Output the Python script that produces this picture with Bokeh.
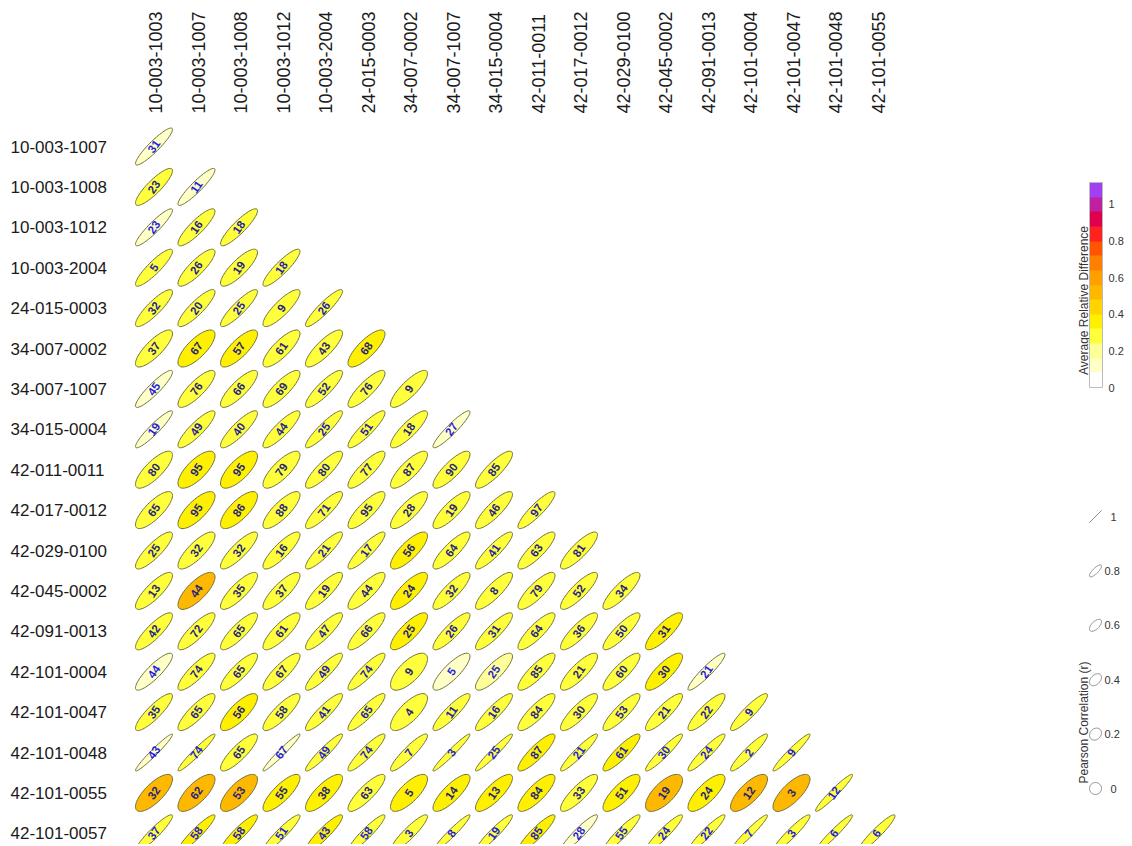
import numpy as np
from bokeh.plotting import figure
from bokeh.models import ColumnDataSource, Range1d, LinearColorMapper, ColorBar, FixedTicker
from bokeh.transform import transform
from bokeh.core.properties import value
from bokeh.embed import file_html
from bokeh.resources import INLINE

col_sites = ["10-003-1003", "10-003-1007", "10-003-1008", "10-003-1012", "10-003-2004",
             "24-015-0003", "34-007-0002", "34-007-1007", "34-015-0004", "42-011-0011",
             "42-017-0012", "42-029-0100", "42-045-0002", "42-091-0013", "42-101-0004",
             "42-101-0047", "42-101-0048", "42-101-0055"]
row_sites = ["10-003-1007", "10-003-1008", "10-003-1012", "10-003-2004", "24-015-0003",
             "34-007-0002", "34-007-1007", "34-015-0004", "42-011-0011", "42-017-0012",
             "42-029-0100", "42-045-0002", "42-091-0013", "42-101-0004", "42-101-0047",
             "42-101-0048", "42-101-0055", "42-101-0057"]

distance_km = [
    [31],
    [23, 11],
    [23, 16, 18],
    [5, 26, 19, 18],
    [32, 20, 25, 9, 26],
    [37, 67, 57, 61, 43, 68],
    [45, 76, 66, 69, 52, 76, 9],
    [19, 49, 40, 44, 25, 51, 18, 27],
    [80, 95, 95, 79, 80, 77, 87, 90, 85],
    [65, 95, 86, 88, 71, 95, 28, 19, 46, 97],
    [25, 32, 32, 16, 21, 17, 56, 64, 41, 63, 81],
    [13, 44, 35, 37, 19, 44, 24, 32, 8, 79, 52, 34],
    [42, 72, 65, 61, 47, 66, 25, 26, 31, 64, 36, 50, 31],
    [44, 74, 65, 67, 49, 74, 9, 5, 25, 85, 21, 60, 30, 21],
    [35, 65, 56, 58, 41, 65, 4, 11, 16, 84, 30, 53, 21, 22, 9],
    [43, 74, 65, 67, 49, 74, 7, 3, 25, 87, 21, 61, 30, 24, 2, 9],
    [32, 62, 53, 55, 38, 63, 5, 14, 13, 84, 33, 51, 19, 24, 12, 3, 12],
    [37, 58, 58, 51, 43, 58, 3, 8, 19, 85, 28, 55, 24, 22, 7, 3, 6, 6],
]

pearson_r = [
    [0.92],
    [0.87, 0.92],
    [0.92, 0.87, 0.89],
    [0.89, 0.85, 0.83, 0.89],
    [0.87, 0.87, 0.89, 0.85, 0.91],
    [0.81, 0.75, 0.79, 0.81, 0.83, 0.79],
    [0.91, 0.83, 0.83, 0.83, 0.87, 0.85, 0.83],
    [0.93, 0.87, 0.87, 0.87, 0.91, 0.89, 0.85, 0.93],
    [0.79, 0.73, 0.73, 0.79, 0.85, 0.85, 0.81, 0.83, 0.85],
    [0.79, 0.75, 0.75, 0.81, 0.87, 0.83, 0.81, 0.83, 0.85, 0.89],
    [0.85, 0.81, 0.85, 0.85, 0.89, 0.89, 0.79, 0.85, 0.89, 0.85, 0.85],
    [0.83, 0.75, 0.83, 0.83, 0.85, 0.83, 0.79, 0.85, 0.85, 0.83, 0.85, 0.85],
    [0.85, 0.85, 0.85, 0.83, 0.87, 0.85, 0.81, 0.87, 0.87, 0.85, 0.85, 0.87, 0.83],
    [0.87, 0.85, 0.85, 0.85, 0.89, 0.89, 0.70, 0.83, 0.83, 0.85, 0.83, 0.85, 0.81, 0.93],
    [0.87, 0.85, 0.79, 0.85, 0.89, 0.89, 0.75, 0.89, 0.89, 0.85, 0.85, 0.87, 0.87, 0.87, 0.91],
    [0.97, 0.96, 0.85, 0.97, 0.94, 0.91, 0.91, 0.97, 0.96, 0.87, 0.94, 0.89, 0.94, 0.93, 0.93, 0.96],
    [0.75, 0.73, 0.73, 0.81, 0.79, 0.85, 0.75, 0.81, 0.81, 0.81, 0.85, 0.79, 0.69, 0.77, 0.75, 0.75, 0.96],
    [0.93, 0.93, 0.91, 0.93, 0.91, 0.93, 0.91, 0.96, 0.94, 0.91, 0.93, 0.93, 0.93, 0.94, 0.96, 0.94, 0.96, 0.94],
]

avg_rel_diff = [
    [0.12],
    [0.28, 0.12],
    [0.12, 0.28, 0.28],
    [0.28, 0.28, 0.28, 0.28],
    [0.28, 0.28, 0.28, 0.28, 0.28],
    [0.28, 0.36, 0.36, 0.28, 0.28, 0.36],
    [0.14, 0.28, 0.28, 0.28, 0.28, 0.28, 0.28],
    [0.12, 0.28, 0.28, 0.28, 0.28, 0.28, 0.28, 0.14],
    [0.28, 0.36, 0.36, 0.28, 0.28, 0.28, 0.28, 0.28, 0.28],
    [0.28, 0.36, 0.36, 0.28, 0.28, 0.28, 0.28, 0.28, 0.28, 0.28],
    [0.28, 0.30, 0.28, 0.28, 0.28, 0.28, 0.36, 0.28, 0.28, 0.28, 0.28],
    [0.28, 0.50, 0.30, 0.28, 0.28, 0.28, 0.36, 0.28, 0.28, 0.28, 0.28, 0.28],
    [0.28, 0.28, 0.28, 0.28, 0.28, 0.28, 0.36, 0.28, 0.28, 0.28, 0.28, 0.28, 0.33],
    [0.14, 0.28, 0.28, 0.28, 0.28, 0.28, 0.28, 0.14, 0.16, 0.28, 0.28, 0.28, 0.36, 0.14],
    [0.28, 0.28, 0.36, 0.28, 0.28, 0.28, 0.28, 0.28, 0.28, 0.28, 0.28, 0.28, 0.28, 0.28, 0.28],
    [0.14, 0.28, 0.28, 0.14, 0.28, 0.28, 0.28, 0.28, 0.28, 0.36, 0.30, 0.36, 0.28, 0.28, 0.28, 0.28],
    [0.50, 0.52, 0.50, 0.34, 0.36, 0.28, 0.36, 0.33, 0.33, 0.36, 0.28, 0.36, 0.52, 0.36, 0.54, 0.52, 0.28],
    [0.28, 0.34, 0.36, 0.28, 0.36, 0.28, 0.28, 0.28, 0.28, 0.34, 0.14, 0.30, 0.30, 0.28, 0.28, 0.28, 0.28, 0.28],
]

colorbar_ticks = [0, 0.2, 0.4, 0.6, 0.8, 1]
r_legend_values = [1, 0.8, 0.6, 0.4, 0.2, 0]
r_legend_labels = ["1", "0.8", "0.6", "0.4", "0.2", "0"]

palette = ["#FFFFFF", "#FFFFC8", "#FFFF99", "#FFFF3C", "#FFF000", "#FFD400", "#FFB800",
           "#FFA000", "#FF7F00", "#FF5500", "#FF2020", "#E0004F", "#C0209F", "#A040F0"]
mapper = LinearColorMapper(palette=palette, low=0, high=1.12)

# ---- layout (pixels from the top-left of the figure) ----
W, H = 1130, 844
X0, DX = 153.5, 42.5     # first column centre, column pitch
Y0, DY = 146.0, 40.4     # first row centre, row pitch


def xd(px):
    return (px - X0) / DX


def yd(py):
    return -(py - Y0) / DY


p = figure(width=W, height=H, output_backend="svg", toolbar_location=None,
           x_range=Range1d(xd(0), xd(W)), y_range=Range1d(yd(H), yd(0)),
           x_axis_location=None, y_axis_location=None, min_border=0)
p.grid.visible = False
p.outline_line_color = None
p.background_fill_color = "white"
p.border_fill_color = "white"

SX, SY = 18.5 / DX, 18.5 / DY     # ellipse half-extent: square 37 px box
t = np.linspace(0, 2 * np.pi, 72)


def ellipse_pts(cx, cy, r, sx, sy):
    d = np.arccos(np.clip(r, -1, 1))
    return list(cx + sx * np.cos(t + d / 2)), list(cy + sy * np.cos(t - d / 2))


def blend(c1, c2, w):
    a = [int(c1[k:k + 2], 16) for k in (1, 3, 5)]
    b = [int(c2[k:k + 2], 16) for k in (1, 3, 5)]
    return "#%02x%02x%02x" % tuple(int(round(a[k] + (b[k] - a[k]) * w)) for k in range(3))


xs, ys, ard, cx, cy, lab, tcol = [], [], [], [], [], [], []
for i, row in enumerate(distance_km):
    for j, dist in enumerate(row):
        r = pearson_r[i][j]
        a = avg_rel_diff[i][j]
        ex, ey = ellipse_pts(j, -i, r, SX, SY)
        xs.append(ex); ys.append(ey); ard.append(a)
        cx.append(j); cy.append(-i); lab.append(str(dist))
        w = max(min(max((r - 0.84) / 0.1, 0), 1), min(max((0.24 - a) / 0.1, 0), 1))
        tcol.append(blend("#25257a", "#1e1ee0", w))

src = ColumnDataSource(dict(xs=xs, ys=ys, ard=ard, cx=cx, cy=cy, lab=lab, tcol=tcol))
p.patches("xs", "ys", source=src, fill_color=transform("ard", mapper),
          line_color="#707038", line_width=1)
p.text("cx", "cy", text="lab", source=src, angle=np.radians(55), text_align="center",
       text_baseline="middle", text_color="tcol", text_font=value("Liberation Sans"),
       text_font_size="11.5px", text_font_style="bold")

# row labels
p.text(x=[xd(10)] * len(row_sites), y=[-i for i in range(len(row_sites))], text=row_sites,
       text_align="left", text_baseline="middle", text_color="#1a1a1a",
       text_font=value("Liberation Sans"), text_font_size="17px")
# column labels
p.text(x=[j + 1.5 / DX for j in range(len(col_sites))], y=[yd(113)] * len(col_sites),
       text=col_sites, angle=np.pi / 2, text_align="left", text_baseline="middle",
       text_color="#1a1a1a", text_font=value("Liberation Sans"), text_font_size="18px")

# colour bar legend
cb = ColorBar(color_mapper=mapper, location=(1089, H - 387), width=13, height=205,
              padding=0, margin=0, ticker=FixedTicker(ticks=colorbar_ticks),
              major_label_overrides={v: (str(v) if v not in (0, 1) else str(int(v))) for v in colorbar_ticks},
              major_tick_line_color=None, minor_tick_line_color=None, label_standoff=6,
              bar_line_color="#bbbbbb", border_line_color=None, background_fill_alpha=0,
              major_label_text_font_size="11px", major_label_text_color="#333333",
              major_label_text_font="Liberation Sans")
p.add_layout(cb)
p.text(x=[xd(1083)], y=[yd(300)], text=["Average Relative Difference"], angle=np.pi / 2,
       text_align="center", text_baseline="middle", text_color="#333333",
       text_font=value("Liberation Sans"), text_font_size="12px")

# correlation shape legend
lx, lys = 1095.0, [516 + 54.4 * k for k in range(len(r_legend_values))]
lxs, lyss = [], []
for k, rv in enumerate(r_legend_values):
    ex, ey = ellipse_pts(xd(lx), yd(lys[k]), rv, 6 / DX, 6 / DY)
    lxs.append(ex); lyss.append(ey)
p.patches(lxs, lyss, fill_color=None, line_color="#888888", line_width=1)
p.text(x=[xd(1104 + (6 if len(s) == 1 else 0)) for s in r_legend_labels], y=[yd(v) for v in lys],
       text=r_legend_labels, text_align="left", text_baseline="middle", text_color="#333333",
       text_font=value("Liberation Sans"), text_font_size="11px")
p.text(x=[xd(1083)], y=[yd(722)], text=["Pearson Correlation (r)"], angle=np.pi / 2,
       text_align="center", text_baseline="middle", text_color="#333333",
       text_font=value("Liberation Sans"), text_font_size="12px")

open("out.html", "w").write(file_html(p, INLINE))
